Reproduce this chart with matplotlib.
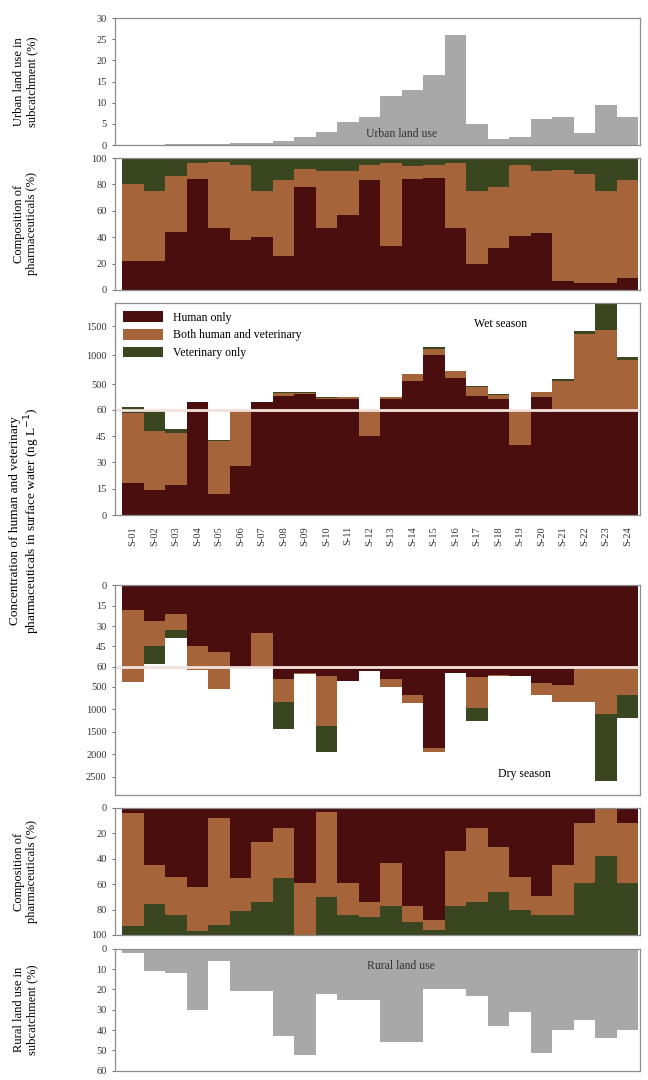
import numpy as np
import matplotlib.pyplot as plt

plt.rcParams['font.family'] = ['Liberation Serif', 'DejaVu Serif']

sites = ['S-%02d' % i for i in range(1, 25)]

urban_land = [0.1, 0.1, 0.2, 0.3, 0.2, 0.4, 0.5, 1.0, 2.0, 3.1, 5.5, 6.6,
              11.7, 12.9, 16.6, 26.1, 4.9, 1.5, 2.0, 6.2, 6.6, 2.9, 9.4, 6.6]
rural_land = [2, 11, 12, 30, 6, 21, 21, 43, 52, 22, 25, 25,
              46, 46, 20, 20, 23, 38, 31, 51, 40, 35, 44, 40]

# wet season composition (%)
wet_comp_human = [22, 22, 44, 84, 47, 38, 40, 26, 78, 47, 57, 83,
                  33, 84, 85, 47, 20, 32, 41, 43, 7, 5, 5, 9]
wet_comp_vet = [20, 25, 14, 4, 3, 5, 25, 17, 8, 10, 10, 5,
                4, 6, 5, 4, 25, 22, 5, 10, 9, 12, 25, 17]

# wet season concentrations (ng/L)
wet_human = [18, 14, 17, 195, 12, 28, 190, 300, 330, 250, 250, 45,
             250, 550, 1000, 600, 300, 250, 40, 280, 60, 60, 60, 60]
wet_both = [40, 34, 30, 0, 30, 31, 5, 50, 20, 20, 25, 17,
            25, 120, 100, 120, 160, 70, 20, 80, 500, 1300, 1370, 860]
wet_vet = [50, 12, 2, 5, 1, 1, 5, 15, 15, 10, 5, 0,
           5, 6, 47, 15, 10, 10, 0, 5, 30, 50, 450, 50]

# dry season concentrations (ng/L)
dry_human = [18, 26, 21, 45, 49, 80, 35, 330, 200, 260, 370, 150,
             330, 690, 1850, 200, 290, 240, 260, 420, 450, 60, 60, 60]
dry_both = [380, 19, 12, 72, 490, 0, 25, 500, 20, 1110, 0, 0,
            180, 180, 100, 0, 685, 20, 0, 270, 380, 770, 1040, 630]
dry_vet = [2, 13, 6, 0, 20, 0, 0, 610, 0, 570, 0, 0,
           0, 0, 0, 0, 285, 0, 0, 0, 0, 0, 1500, 500]

# dry season composition (%)
dry_comp_human = [4, 45, 54, 62, 8, 55, 27, 16, 59, 3, 59, 74,
                  43, 77, 88, 34, 16, 31, 54, 69, 45, 12, 1, 12]
dry_comp_vet = [7, 24, 16, 3, 8, 19, 26, 45, 0, 30, 16, 14,
                23, 10, 4, 23, 26, 34, 20, 16, 16, 41, 62, 41]

c_human = '#4a0e0f'
c_both = '#a5643a'
c_vet = '#3a4620'
c_land = '#a8a8a8'
c_break = '#f3e1dc'

K = 0.033


def fwd(v):
    v = np.asarray(v, dtype=float)
    return np.where(v <= 60, v, 60 + (v - 60) * K)


def inv(t):
    t = np.asarray(t, dtype=float)
    return np.where(t <= 60, t, 60 + (t - 60) / K)


x = np.arange(len(sites))
xlim = (-0.84, 23.58)

fig = plt.figure(figsize=(6.48, 10.8), dpi=100)
L, W = 0.1775, 0.81
ax1 = fig.add_axes([L, 0.8657, W, 0.1176])
ax2 = fig.add_axes([L, 0.7315, W, 0.1222])
ax3 = fig.add_axes([L, 0.5231, W, 0.1963])
ax4 = fig.add_axes([L, 0.2639, W, 0.1944])
ax5 = fig.add_axes([L, 0.1343, W, 0.1176])
ax6 = fig.add_axes([L, 0.0085, W, 0.1130])

for ax in (ax1, ax2, ax3, ax4, ax5, ax6):
    ax.set_xlim(*xlim)
    ax.tick_params(labelsize=7.5, length=2.5, width=0.6, colors='#555555', labelcolor='#333333')
    for s in ax.spines.values():
        s.set_color('#8c8c8c')
        s.set_linewidth(0.9)
    ax.set_xticks(x)
    ax.tick_params(axis='x', labelbottom=False, length=0)


def stack(ax, a, b, c):
    a, b, c = np.array(a, float), np.array(b, float), np.array(c, float)
    ax.bar(x, a, 1.0, color=c_human, linewidth=0, label='Human only')
    ax.bar(x, b, 1.0, bottom=a, color=c_both, linewidth=0, label='Both human and veterinary')
    ax.bar(x, c, 1.0, bottom=a + b, color=c_vet, linewidth=0, label='Veterinary only')


def side_label(ax, text):
    box = ax.get_position()
    fig.text(0.04, box.y0 + box.height / 2, text, rotation=90, ha='center', va='center',
             fontsize=9, linespacing=1.1)


# urban land use
ax1.bar(x, urban_land, 1.0, color=c_land, linewidth=0)
ax1.set_ylim(0, 30)
ax1.set_yticks(range(0, 31, 5))
ax1.text(0.545, 0.09, 'Urban land use', transform=ax1.transAxes, ha='center', va='center',
         fontsize=8.5, color='#333333')
side_label(ax1, 'Urban land use in\nsubcatchment (%)')

# wet composition
wh = np.array(wet_comp_human, float)
wv = np.array(wet_comp_vet, float)
stack(ax2, wh, 100 - wh - wv, wv)
ax2.set_ylim(0, 100)
ax2.set_yticks(range(0, 101, 20))
side_label(ax2, 'Composition of\npharmaceuticals (%)')

# wet concentrations
ax3.set_yscale('function', functions=(fwd, inv))
stack(ax3, wet_human, wet_both, wet_vet)
ax3.set_ylim(0, 1900)
ax3.set_yticks([0, 15, 30, 45, 60, 500, 1000, 1500])
ax3.axhline(60, color=c_break, lw=2)
ax3.text(0.735, 0.9, 'Wet season', transform=ax3.transAxes, ha='center', va='center', fontsize=8.5)
ax3.legend(loc='upper left', fontsize=8.5, frameon=False, handlelength=3.4, handleheight=1.0,
           borderaxespad=0.3, labelspacing=0.45)
ax3.tick_params(axis='x', labelbottom=True, length=0, pad=8)
ax3.set_xticklabels(sites, rotation=90, fontsize=7.5)

# dry concentrations
ax4.set_yscale('function', functions=(fwd, inv))
stack(ax4, dry_human, dry_both, dry_vet)
ax4.set_ylim(2900, 0)
ax4.set_yticks([0, 15, 30, 45, 60, 500, 1000, 1500, 2000, 2500])
ax4.axhline(60, color=c_break, lw=2)
ax4.text(0.78, 0.1, 'Dry season', transform=ax4.transAxes, ha='center', va='center', fontsize=8.5)

fig.text(0.04, 0.518, 'Concentration of human and veterinary\npharmaceuticals in surface water (ng L$^{-1}$)',
         rotation=90, ha='center', va='center', fontsize=9.5, linespacing=1.1)

# dry composition
dh = np.array(dry_comp_human, float)
dv = np.array(dry_comp_vet, float)
stack(ax5, dh, 100 - dh - dv, dv)
ax5.set_ylim(100, 0)
ax5.set_yticks(range(0, 101, 20))
side_label(ax5, 'Composition of\npharmaceuticals (%)')

# rural land use
ax6.bar(x, rural_land, 1.0, color=c_land, linewidth=0)
ax6.set_ylim(60, 0)
ax6.set_yticks(range(0, 61, 10))
ax6.text(0.545, 0.86, 'Rural land use', transform=ax6.transAxes, ha='center', va='center',
         fontsize=8.5, color='#333333')
side_label(ax6, 'Rural land use in\nsubcatchment (%)')

fig.savefig('out.png', dpi=100)
